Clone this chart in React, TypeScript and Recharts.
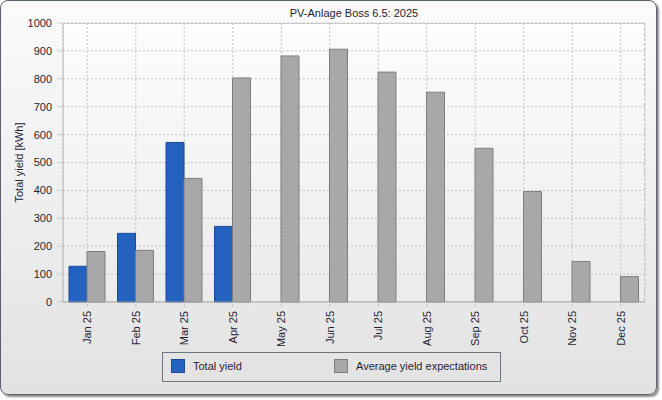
import React from 'react';
import { BarChart, Bar, XAxis, YAxis, CartesianGrid, Legend } from 'recharts';

const months = ['Jan 25', 'Feb 25', 'Mar 25', 'Apr 25', 'May 25', 'Jun 25', 'Jul 25', 'Aug 25', 'Sep 25', 'Oct 25', 'Nov 25', 'Dec 25'];
const totalYield: (number | null)[] = [128, 246, 572, 271, null, null, null, null, null, null, null, null];
const expectedYield = [181, 185, 443, 803, 882, 906, 824, 752, 551, 396, 145, 91];
const yTicks = [0, 100, 200, 300, 400, 500, 600, 700, 800, 900, 1000];
const title = 'PV-Anlage Boss 6.5: 2025';
const yLabel = 'Total yield [kWh]';
const seriesNames = { total: 'Total yield', expected: 'Average yield expectations' };
const seriesOrder = ['total', 'expected'];

const data = months.map((m, i) => ({ month: m, total: totalYield[i], expected: expectedYield[i] }));

const FONT = '"Liberation Sans", Arial, sans-serif';
const TEXT = '#1e1e32';

const XTick = (props: any) => {
  const { x, y, payload } = props;
  return (
    <g transform={`translate(${x},${y})`}>
      <text transform="rotate(-90)" x={0} y={0} dy="0.35em" textAnchor="end" fontSize={11} fontFamily={FONT} fill={TEXT}>
        {payload.value}
      </text>
    </g>
  );
};

const renderLegend = (props: any) => {
  const items = [...(props.payload || [])].sort(
    (a: any, b: any) => seriesOrder.indexOf(a.dataKey) - seriesOrder.indexOf(b.dataKey)
  );
  const pos = [{ sq: 8, tx: 30 }, { sq: 171, tx: 193 }];
  return (
    <div style={{ position: 'relative', width: 339, height: 30, boxSizing: 'border-box', border: '1px solid #6b7784', fontFamily: FONT, fontSize: 11, color: TEXT }}>
      {items.map((it: any, i: number) => (
        <React.Fragment key={i}>
          <div style={{ position: 'absolute', left: pos[i].sq, top: 6, width: 12, height: 12, background: it.color, border: `1px solid ${it.dataKey === 'total' ? '#1a4a98' : '#7e7e7e'}` }} />
          <div style={{ position: 'absolute', left: pos[i].tx, top: 7, lineHeight: '13px', whiteSpace: 'nowrap' }}>{it.value}</div>
        </React.Fragment>
      ))}
    </div>
  );
};

export default function App() {
  return (
    <div style={{ position: 'absolute', left: 0, top: 0, width: 662, height: 400, fontFamily: FONT }}>
      <div style={{ position: 'absolute', left: 0, top: 0, width: 657, height: 395, boxSizing: 'border-box', border: '1px solid #56616d', borderRadius: 8, background: 'linear-gradient(#fbfbfb, #e2e2e2)', boxShadow: '2px 2px 2px rgba(0,0,0,0.45)' }} />
      <div style={{ position: 'absolute', left: 63, top: 23, width: 582, height: 278, boxSizing: 'border-box', borderTop: '1px solid #cdcdcd', borderRight: '1px dashed #c4c4c4', background: 'linear-gradient(#fdfdfd, #ebebeb)' }} />
      <div style={{ position: 'absolute', left: 63, top: 7, width: 582, textAlign: 'center', fontSize: 11, color: TEXT, lineHeight: '13px' }}>{title}</div>
      <div style={{ position: 'absolute', left: 0, top: 0 }}>
        <BarChart width={662} height={400} data={data} margin={{ top: 23, right: 17, left: 0, bottom: 8 }} barGap={0} barSize={18}>
          <CartesianGrid stroke="#c2c2c2" strokeDasharray="2 2" />
          <XAxis
            dataKey="month"
            height={60}
            interval={0}
            tick={<XTick />}
            tickSize={5}
            tickMargin={4}
            axisLine={{ stroke: '#a8a8a8' }}
            tickLine={{ stroke: '#b0b0b0', strokeDasharray: '1 1' }}
          />
          <YAxis
            width={63}
            domain={[0, 1000]}
            ticks={yTicks}
            interval={0}
            tickSize={6}
            tickMargin={5}
            tick={{ fontSize: 11, fill: TEXT, fontFamily: FONT }}
            axisLine={{ stroke: '#b8b8b8' }}
            tickLine={{ stroke: '#b0b0b0', strokeDasharray: '1 1' }}
            label={{ value: yLabel, angle: -90, position: 'center', dx: -12, style: { fontSize: 11, fill: TEXT, fontFamily: FONT } }}
          />
          <Legend verticalAlign="bottom" wrapperStyle={{ left: 162, top: 352, width: 339, height: 30 }} content={renderLegend} />
          <Bar dataKey="total" name={seriesNames.total} fill="#2462c0" stroke="#1a4a98" strokeWidth={1} isAnimationActive={false} />
          <Bar dataKey="expected" name={seriesNames.expected} fill="#a8a8a8" stroke="#7e7e7e" strokeWidth={1} isAnimationActive={false} />
        </BarChart>
      </div>
    </div>
  );
}
